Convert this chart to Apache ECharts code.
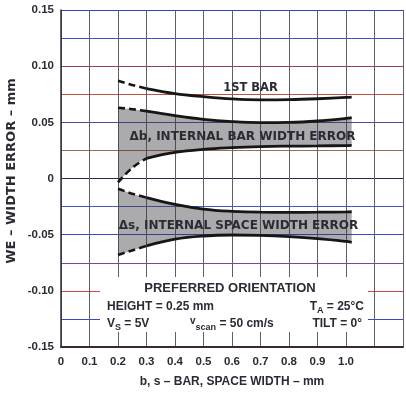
<!DOCTYPE html>
<html>
<head>
<meta charset="utf-8">
<script src="https://cdn.jsdelivr.net/npm/echarts@6/dist/echarts.min.js"></script>
<style>
html,body{margin:0;padding:0;background:#fff;}
#chart{width:406px;height:393px;}
</style>
</head>
<body>
<div id="chart"></div>
<script>
// ---- data ----
const xValues     = [0.2, 0.25, 0.3, 0.4, 0.5, 0.6, 0.7, 0.8, 0.9, 1.0, 1.02];
const firstBar    = [0.0870, 0.0832, 0.0800, 0.0755, 0.0728, 0.0708, 0.0700, 0.0702, 0.0710, 0.0722, 0.0725];
const barUpper    = [0.0630, 0.0617, 0.0600, 0.0560, 0.0527, 0.0507, 0.0498, 0.0500, 0.0512, 0.0535, 0.0543];
const barLower    = [-0.0035, 0.0095, 0.0180, 0.0232, 0.0260, 0.0275, 0.0284, 0.0288, 0.0290, 0.0293, 0.0294];
const spaceUpper  = [-0.0092, -0.0135, -0.0170, -0.0230, -0.0272, -0.0292, -0.0300, -0.0301, -0.0300, -0.0297, -0.0296];
const spaceLower  = [-0.0680, -0.0640, -0.0600, -0.0540, -0.0512, -0.0503, -0.0507, -0.0518, -0.0535, -0.0560, -0.0568];
const dashedEnd   = 2;   // index of x = 0.3 : curves are dashed from 0.2 to 0.3
const xTickLabels = ['0', '0.1', '0.2', '0.3', '0.4', '0.5', '0.6', '0.7', '0.8', '0.9', '1.0'];
const yTickLabels = ['-0.15', '-0.10', '-0.05', '0', '0.05', '0.10', '0.15'];

const lineColors = ['#602030', '#3848c8', '#c84848', '#8040a0', '#3848c8', '#4858c0', '#302840',
                    '#a86848', '#6040a0', '#c05040', '#a03860', '#4050c0', '#3040b8'];

const LBL = "'Liberation Sans', Arial, sans-serif";
const DJV = "'DejaVu Sans', sans-serif";
const TXT = '#2b2b35';
const SMOOTH = 0.4;

function pairs(ys, a, b) {
  const out = [];
  for (let i = a; i <= b; i++) out.push([xValues[i], ys[i]]);
  return out;
}
const last = xValues.length - 1;

function curve(name, ys) {
  const base = { type: 'line', smooth: SMOOTH, symbol: 'none', silent: true, z: 5, name: name };
  return [
    Object.assign({}, base, { data: pairs(ys, 0, dashedEnd),
      lineStyle: { color: '#161616', width: 2.6, type: [7, 4] } }),
    Object.assign({}, base, { data: pairs(ys, dashedEnd, last),
      lineStyle: { color: '#161616', width: 2.8 } })
  ];
}
// bands: stacked on y. The y value is put in column 0 so that the stack applies to y.
function band(stackId, lo, up) {
  return [
    { type: 'line', stack: stackId, stackStrategy: 'all', smooth: SMOOTH, symbol: 'none', silent: true, z: 2,
      encode: { x: 1, y: 0 },
      data: xValues.map((x, i) => [lo[i], x]), lineStyle: { opacity: 0 } },
    { type: 'line', stack: stackId, stackStrategy: 'all', smooth: SMOOTH, symbol: 'none', silent: true, z: 2,
      encode: { x: 1, y: 0 },
      data: xValues.map((x, i) => [+(up[i] - lo[i]).toFixed(4), x]), lineStyle: { opacity: 0 },
      areaStyle: { color: 'rgba(55,55,60,0.42)', opacity: 1 } }
  ];
}

const chart = echarts.init(document.getElementById('chart'), null, { renderer: 'canvas' });

const option = {
  backgroundColor: '#ffffff',
  animation: false,
  grid: { left: 61, top: 10, width: 350, height: 340, containLabel: false },
  xAxis: {
    type: 'value', min: 0, max: 1.2, interval: 0.1,
    axisLine: { show: true, onZero: false, lineStyle: { color: '#3a2a30', width: 2 } },
    axisTick: { show: false },
    splitLine: { show: true, lineStyle: { color: '#5e5e6e', width: 1 } },
    axisLabel: {
      margin: 9, color: TXT, fontFamily: LBL, fontWeight: 'bold', fontSize: 11.5,
      formatter: function (v) { const i = Math.round(v * 10); return i < xTickLabels.length ? xTickLabels[i] : ''; }
    },
    name: 'b, s \u2013 BAR, SPACE WIDTH \u2013 mm', nameLocation: 'middle', nameGap: 29,
    nameTextStyle: { color: TXT, fontFamily: LBL, fontWeight: 'bold', fontSize: 12 }
  },
  yAxis: {
    type: 'value', min: -0.15, max: 0.15, interval: 0.025,
    axisLine: { show: true, onZero: false, lineStyle: { color: '#303038', width: 1.5 } },
    axisTick: { show: false },
    splitLine: { show: true, lineStyle: { color: lineColors, width: 1.2 } },
    axisLabel: {
      margin: 7, color: TXT, fontFamily: LBL, fontWeight: 'bold', fontSize: 11.5,
      formatter: function (v) { const k = Math.round(v * 1000); return k % 50 === 0 ? yTickLabels[k / 50 + 3] : ''; }
    }
  },
  series: [].concat(
    band('b', barLower, barUpper),
    band('s', spaceLower, spaceUpper),
    curve('1ST BAR', firstBar),
    curve('bar upper', barUpper),
    curve('bar lower', barLower),
    curve('space upper', spaceUpper),
    curve('space lower', spaceLower)
  ),
  graphic: [
    { type: 'text', x: 12, y: 171, rotation: Math.PI / 2, z: 100,
      style: { text: 'WE \u2013 WIDTH ERROR \u2013 mm', fill: TXT, font: "bold 13px " + DJV, align: 'center', verticalAlign: 'middle' } },
    { type: 'text', x: 250.5, y: 88, z: 100,
      style: { text: '1ST BAR', fill: TXT, font: "bold 11.5px " + DJV, align: 'center', verticalAlign: 'middle' } },
    { type: 'text', x: 242.5, y: 137, z: 100,
      style: { text: '\u0394b, INTERNAL BAR WIDTH ERROR', fill: TXT, font: "bold 12px " + DJV, align: 'center', verticalAlign: 'middle' } },
    { type: 'text', x: 238.5, y: 226, z: 100,
      style: { text: '\u0394s, INTERNAL SPACE WIDTH ERROR', fill: TXT, font: "bold 12px " + DJV, align: 'center', verticalAlign: 'middle' } },
    { type: 'rect', z: 99, shape: { x: 100, y: 277, width: 268, height: 55 }, style: { fill: '#ffffff' } },
    { type: 'text', x: 230, y: 288, z: 100,
      style: { text: 'PREFERRED ORIENTATION', fill: TXT, font: "bold 13px " + LBL, align: 'center', verticalAlign: 'middle' } },
    { type: 'text', x: 107, y: 306.5, z: 100,
      style: { text: 'HEIGHT = 0.25 mm', fill: TXT, font: "bold 12px " + LBL, align: 'left', verticalAlign: 'middle' } },
    { type: 'text', x: 364, y: 307, z: 100,
      style: { text: '{n|T}{s|A}{n| = 25°C}', align: 'right', verticalAlign: 'middle',
        rich: { n: { fill: TXT, font: "bold 12px " + LBL, lineHeight: 16, verticalAlign: 'middle' },
                s: { fill: TXT, font: "bold 9px " + LBL, lineHeight: 10, verticalAlign: 'bottom' } } } },
    { type: 'text', x: 107, y: 324, z: 100,
      style: { text: '{n|V}{s|S}{n| = 5V}', align: 'left', verticalAlign: 'middle',
        rich: { n: { fill: TXT, font: "bold 12px " + LBL, lineHeight: 16, verticalAlign: 'middle' },
                s: { fill: TXT, font: "bold 9px " + LBL, lineHeight: 10, verticalAlign: 'bottom' } } } },
    { type: 'text', x: 190, y: 324, z: 100,
      style: { text: '{p|v}{s|scan}{n| = 50 cm/s}', align: 'left', verticalAlign: 'middle',
        rich: { n: { fill: TXT, font: "bold 12px " + LBL, lineHeight: 16, verticalAlign: 'middle' },
                p: { fill: TXT, font: "bold 10px " + LBL, lineHeight: 11, verticalAlign: 'top' },
                s: { fill: TXT, font: "bold 9px " + LBL, lineHeight: 10, verticalAlign: 'bottom' } } } },
    { type: 'text', x: 362, y: 324, z: 100,
      style: { text: 'TILT = 0°', fill: TXT, font: "bold 12px " + LBL, align: 'right', verticalAlign: 'middle' } }
  ]
};
chart.setOption(option);
</script>
</body>
</html>
